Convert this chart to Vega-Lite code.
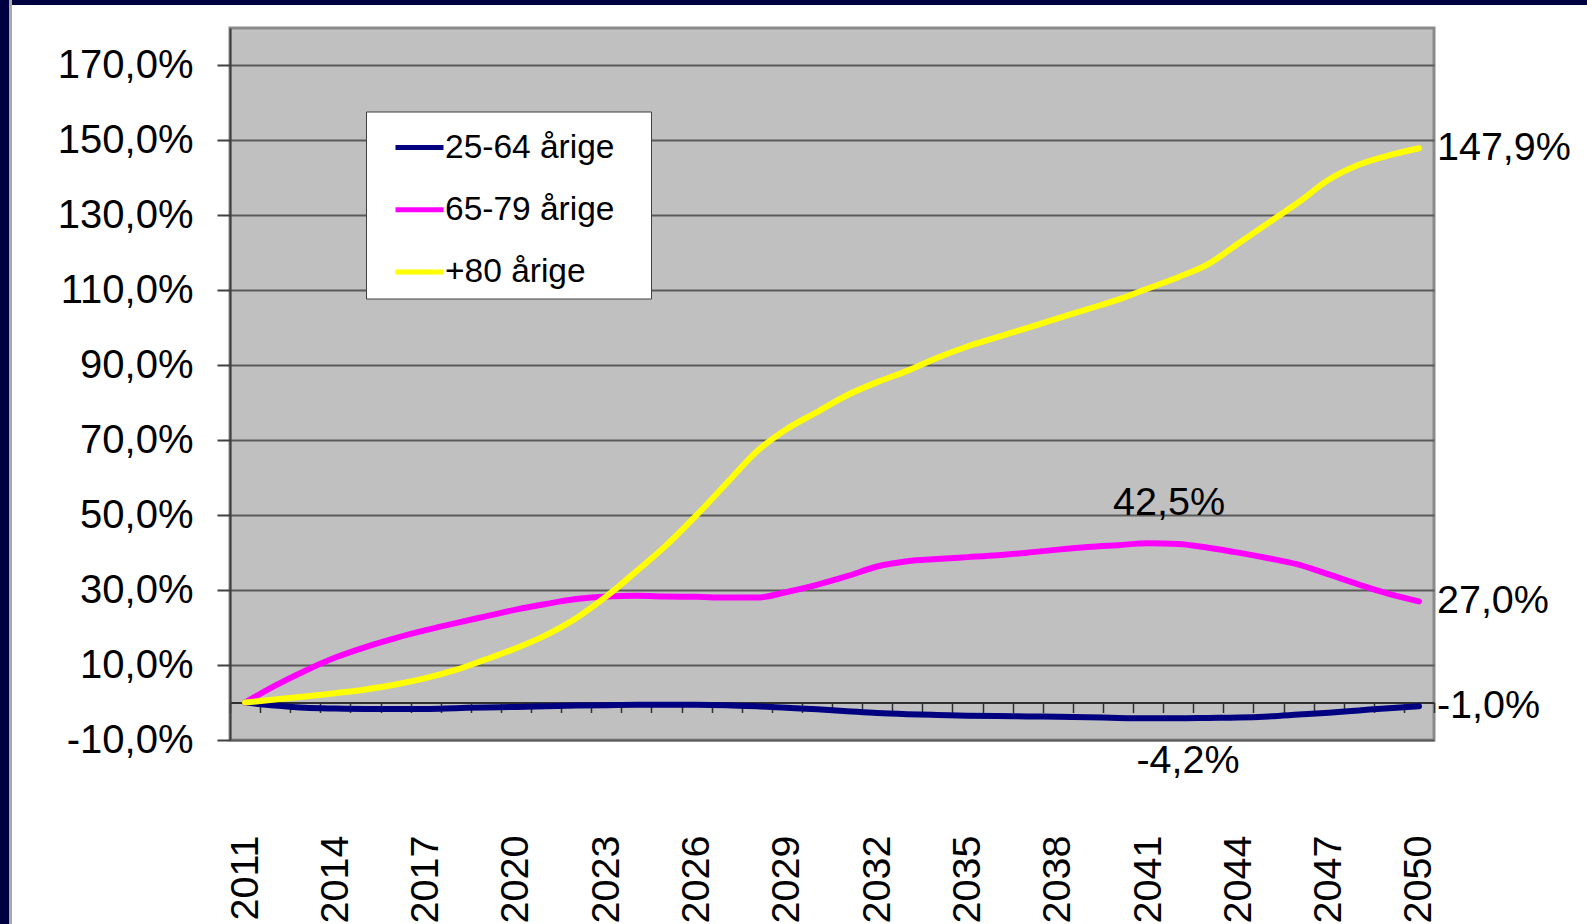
{
  "$schema": "https://vega.github.io/schema/vega-lite/v6.json",
  "padding": 0,
  "background": "#ffffff",
  "config": {
    "locale": {"number": {"decimal": ",", "thousands": ".", "grouping": [3], "currency": ["", " kr"], "minus": "-", "percent": "%"}},
    "font": "Liberation Sans",
    "view": {"fill": null, "stroke": null},
    "axis": {"labelFont": "Liberation Sans", "labelColor": "#000000", "titleFont": "Liberation Sans"},
    "legend": {"labelFont": "Liberation Sans"}
  },
  "bounds": "flush",
  "spacing": 0,
  "resolve": {"scale": {"color": "independent"}, "legend": {"color": "independent"}},
  "hconcat": [
    {
      "data": {"values": [{}]},
      "width": 9, "height": 924,
      "view": {"fill": "#000040", "stroke": null},
      "mark": {"type": "point", "size": 0, "opacity": 0, "filled": true, "strokeWidth": 0},
      "encoding": {}
    },
    {
      "data": {"values": [{}]},
      "width": 3, "height": 924,
      "view": {"fill": "#a9a9a9", "stroke": null},
      "mark": {"type": "point", "size": 0, "opacity": 0, "filled": true, "strokeWidth": 0},
      "encoding": {}
    },
    {
      "bounds": "flush",
      "spacing": 23,
      "resolve": {"scale": {"color": "independent"}, "legend": {"color": "independent"}},
      "vconcat": [
        {
          "data": {"values": [{}]},
          "width": 1575, "height": 5,
          "view": {"fill": "#000040", "stroke": null},
          "mark": {"type": "point", "size": 0, "opacity": 0, "filled": true, "strokeWidth": 0},
          "encoding": {}
        },
        {
          "bounds": "flush",
          "spacing": 217,
          "resolve": {"scale": {"color": "independent"}, "legend": {"color": "independent"}},
          "hconcat": [
            {
              "data": {"values": [{}]},
              "width": 1, "height": 1,
              "view": {"fill": null, "stroke": null},
              "mark": {"type": "point", "size": 0, "opacity": 0, "filled": true, "strokeWidth": 0},
              "encoding": {}
            },
            {
              "width": 1204,
              "height": 712,
              "view": {"fill": "#C0C0C0", "stroke": "#8a8a8a", "strokeWidth": 3},
              "data": {"values": [
                {"year": 2011, "series": "25-64 årige", "value": 0},
                {"year": 2012, "series": "25-64 årige", "value": -0.008},
                {"year": 2013, "series": "25-64 årige", "value": -0.014},
                {"year": 2014, "series": "25-64 årige", "value": -0.016},
                {"year": 2015, "series": "25-64 årige", "value": -0.017},
                {"year": 2016, "series": "25-64 årige", "value": -0.017},
                {"year": 2017, "series": "25-64 årige", "value": -0.017},
                {"year": 2018, "series": "25-64 årige", "value": -0.015},
                {"year": 2019, "series": "25-64 årige", "value": -0.013},
                {"year": 2020, "series": "25-64 årige", "value": -0.012},
                {"year": 2021, "series": "25-64 årige", "value": -0.010},
                {"year": 2022, "series": "25-64 årige", "value": -0.008},
                {"year": 2023, "series": "25-64 årige", "value": -0.007},
                {"year": 2024, "series": "25-64 årige", "value": -0.006},
                {"year": 2025, "series": "25-64 årige", "value": -0.006},
                {"year": 2026, "series": "25-64 årige", "value": -0.006},
                {"year": 2027, "series": "25-64 årige", "value": -0.007},
                {"year": 2028, "series": "25-64 årige", "value": -0.010},
                {"year": 2029, "series": "25-64 årige", "value": -0.014},
                {"year": 2030, "series": "25-64 årige", "value": -0.018},
                {"year": 2031, "series": "25-64 årige", "value": -0.023},
                {"year": 2032, "series": "25-64 årige", "value": -0.028},
                {"year": 2033, "series": "25-64 årige", "value": -0.031},
                {"year": 2034, "series": "25-64 årige", "value": -0.033},
                {"year": 2035, "series": "25-64 årige", "value": -0.035},
                {"year": 2036, "series": "25-64 årige", "value": -0.036},
                {"year": 2037, "series": "25-64 årige", "value": -0.037},
                {"year": 2038, "series": "25-64 årige", "value": -0.038},
                {"year": 2039, "series": "25-64 årige", "value": -0.039},
                {"year": 2040, "series": "25-64 årige", "value": -0.041},
                {"year": 2041, "series": "25-64 årige", "value": -0.042},
                {"year": 2042, "series": "25-64 årige", "value": -0.042},
                {"year": 2043, "series": "25-64 årige", "value": -0.041},
                {"year": 2044, "series": "25-64 årige", "value": -0.040},
                {"year": 2045, "series": "25-64 årige", "value": -0.037},
                {"year": 2046, "series": "25-64 årige", "value": -0.032},
                {"year": 2047, "series": "25-64 årige", "value": -0.027},
                {"year": 2048, "series": "25-64 årige", "value": -0.021},
                {"year": 2049, "series": "25-64 årige", "value": -0.015},
                {"year": 2050, "series": "25-64 årige", "value": -0.010},
                {"year": 2011, "series": "65-79 årige", "value": 0},
                {"year": 2012, "series": "65-79 årige", "value": 0.045},
                {"year": 2013, "series": "65-79 årige", "value": 0.085},
                {"year": 2014, "series": "65-79 årige", "value": 0.120},
                {"year": 2015, "series": "65-79 årige", "value": 0.148},
                {"year": 2016, "series": "65-79 årige", "value": 0.172},
                {"year": 2017, "series": "65-79 årige", "value": 0.193},
                {"year": 2018, "series": "65-79 årige", "value": 0.212},
                {"year": 2019, "series": "65-79 årige", "value": 0.230},
                {"year": 2020, "series": "65-79 årige", "value": 0.248},
                {"year": 2021, "series": "65-79 årige", "value": 0.263},
                {"year": 2022, "series": "65-79 årige", "value": 0.276},
                {"year": 2023, "series": "65-79 årige", "value": 0.283},
                {"year": 2024, "series": "65-79 årige", "value": 0.285},
                {"year": 2025, "series": "65-79 årige", "value": 0.283},
                {"year": 2026, "series": "65-79 årige", "value": 0.282},
                {"year": 2027, "series": "65-79 årige", "value": 0.280},
                {"year": 2028, "series": "65-79 årige", "value": 0.280},
                {"year": 2029, "series": "65-79 årige", "value": 0.295},
                {"year": 2030, "series": "65-79 årige", "value": 0.314},
                {"year": 2031, "series": "65-79 årige", "value": 0.337},
                {"year": 2032, "series": "65-79 årige", "value": 0.363},
                {"year": 2033, "series": "65-79 årige", "value": 0.377},
                {"year": 2034, "series": "65-79 årige", "value": 0.383},
                {"year": 2035, "series": "65-79 årige", "value": 0.388},
                {"year": 2036, "series": "65-79 årige", "value": 0.393},
                {"year": 2037, "series": "65-79 årige", "value": 0.400},
                {"year": 2038, "series": "65-79 årige", "value": 0.408},
                {"year": 2039, "series": "65-79 årige", "value": 0.415},
                {"year": 2040, "series": "65-79 årige", "value": 0.420},
                {"year": 2041, "series": "65-79 årige", "value": 0.425},
                {"year": 2042, "series": "65-79 årige", "value": 0.423},
                {"year": 2043, "series": "65-79 årige", "value": 0.413},
                {"year": 2044, "series": "65-79 årige", "value": 0.400},
                {"year": 2045, "series": "65-79 årige", "value": 0.385},
                {"year": 2046, "series": "65-79 årige", "value": 0.368},
                {"year": 2047, "series": "65-79 årige", "value": 0.342},
                {"year": 2048, "series": "65-79 årige", "value": 0.315},
                {"year": 2049, "series": "65-79 årige", "value": 0.290},
                {"year": 2050, "series": "65-79 årige", "value": 0.270},
                {"year": 2011, "series": "+80 årige", "value": 0},
                {"year": 2012, "series": "+80 årige", "value": 0.008},
                {"year": 2013, "series": "+80 årige", "value": 0.016},
                {"year": 2014, "series": "+80 årige", "value": 0.025},
                {"year": 2015, "series": "+80 årige", "value": 0.035},
                {"year": 2016, "series": "+80 årige", "value": 0.048},
                {"year": 2017, "series": "+80 årige", "value": 0.065},
                {"year": 2018, "series": "+80 årige", "value": 0.087},
                {"year": 2019, "series": "+80 årige", "value": 0.115},
                {"year": 2020, "series": "+80 årige", "value": 0.145},
                {"year": 2021, "series": "+80 årige", "value": 0.180},
                {"year": 2022, "series": "+80 årige", "value": 0.225},
                {"year": 2023, "series": "+80 årige", "value": 0.283},
                {"year": 2024, "series": "+80 årige", "value": 0.350},
                {"year": 2025, "series": "+80 årige", "value": 0.420},
                {"year": 2026, "series": "+80 årige", "value": 0.500},
                {"year": 2027, "series": "+80 årige", "value": 0.585},
                {"year": 2028, "series": "+80 årige", "value": 0.670},
                {"year": 2029, "series": "+80 årige", "value": 0.730},
                {"year": 2030, "series": "+80 årige", "value": 0.775},
                {"year": 2031, "series": "+80 årige", "value": 0.820},
                {"year": 2032, "series": "+80 årige", "value": 0.855},
                {"year": 2033, "series": "+80 årige", "value": 0.885},
                {"year": 2034, "series": "+80 årige", "value": 0.920},
                {"year": 2035, "series": "+80 årige", "value": 0.950},
                {"year": 2036, "series": "+80 årige", "value": 0.975},
                {"year": 2037, "series": "+80 årige", "value": 1.000},
                {"year": 2038, "series": "+80 årige", "value": 1.025},
                {"year": 2039, "series": "+80 årige", "value": 1.050},
                {"year": 2040, "series": "+80 årige", "value": 1.075},
                {"year": 2041, "series": "+80 årige", "value": 1.105},
                {"year": 2042, "series": "+80 årige", "value": 1.135},
                {"year": 2043, "series": "+80 årige", "value": 1.170},
                {"year": 2044, "series": "+80 årige", "value": 1.225},
                {"year": 2045, "series": "+80 årige", "value": 1.280},
                {"year": 2046, "series": "+80 årige", "value": 1.335},
                {"year": 2047, "series": "+80 årige", "value": 1.395},
                {"year": 2048, "series": "+80 årige", "value": 1.435},
                {"year": 2049, "series": "+80 årige", "value": 1.460},
                {"year": 2050, "series": "+80 årige", "value": 1.479}
              ]},
              "resolve": {"axis": {"x": "independent"}},
              "layer": [
                {
                  "mark": {"type": "line", "strokeWidth": 6, "interpolate": "monotone", "strokeCap": "round", "strokeJoin": "round"},
                  "encoding": {
                    "x": {"field": "year", "type": "quantitative",
                      "scale": {"domain": [2010.5, 2050.5], "nice": false, "zero": false},
                      "axis": {"orient": "bottom", "values": [2011, 2014, 2017, 2020, 2023, 2026, 2029, 2032, 2035, 2038, 2041, 2044, 2047, 2050],
                        "format": "d", "labelAngle": -90, "labelFontSize": 39.5, "labelPadding": 95, "ticks": false, "tickSize": 0,
                        "domain": false, "grid": false, "title": null, "labelOverlap": false, "labelFlush": false}},
                    "y": {"field": "value", "type": "quantitative",
                      "scale": {"domain": [-0.1, 1.8], "nice": false, "zero": false},
                      "axis": {"values": [-0.1, 0.1, 0.3, 0.5, 0.7, 0.9, 1.1, 1.3, 1.5, 1.7], "format": ".1%",
                        "labelFontSize": 40, "tickSize": 13, "tickColor": "#404040", "tickWidth": 2,
                        "domainColor": "#404040", "domainWidth": 2, "gridColor": "#5a5a5a", "gridWidth": 2,
                        "labelPadding": 24, "title": null, "labelOverlap": false, "labelFlush": false}},
                    "color": {"field": "series", "type": "nominal",
                      "scale": {"domain": ["25-64 årige", "65-79 årige", "+80 årige"], "range": ["#000080", "#FF00FF", "#FFFF00"]},
                      "legend": {"orient": "none", "legendX": 136, "legendY": 83.5, "title": ".",
                        "titleOrient": "right", "titleColor": "#ffffff", "titleFontSize": 4, "titlePadding": 25,
                        "fillColor": "#ffffff", "strokeColor": "#404040", "padding": 9.5,
                        "symbolType": "stroke", "symbolSize": 2304, "symbolStrokeWidth": 5, "symbolOffset": 17.5,
                        "labelFontSize": 33.5, "labelColor": "#000000", "labelOffset": -1, "rowPadding": 19.3, "labelLimit": 400}}
                  }
                },
                {
                  "transform": [{"filter": "datum.year == 2050"}],
                  "mark": {"type": "text", "align": "left", "baseline": "middle", "dx": 18, "fontSize": 39.5, "color": "#000000"},
                  "encoding": {
                    "x": {"field": "year", "type": "quantitative",
                      "axis": {"orient": "bottom", "offset": -37.5,
                        "values": [2010.5, 2011.5, 2012.5, 2013.5, 2014.5, 2015.5, 2016.5, 2017.5, 2018.5, 2019.5, 2020.5, 2021.5, 2022.5, 2023.5, 2024.5, 2025.5, 2026.5, 2027.5, 2028.5, 2029.5, 2030.5, 2031.5, 2032.5, 2033.5, 2034.5, 2035.5, 2036.5, 2037.5, 2038.5, 2039.5, 2040.5, 2041.5, 2042.5, 2043.5, 2044.5, 2045.5, 2046.5, 2047.5, 2048.5, 2049.5, 2050.5],
                        "labels": false, "grid": false, "domain": true, "domainColor": "#303030", "domainWidth": 2,
                        "ticks": true, "tickSize": 10, "tickColor": "#303030", "tickWidth": 1.5, "title": null}},
                    "y": {"field": "value", "type": "quantitative"},
                    "text": {"field": "value", "type": "quantitative", "format": ".1%"}
                  }
                },
                {
                  "transform": [{"filter": "datum.year == 2041 && datum.series == '65-79 årige'"}],
                  "mark": {"type": "text", "align": "center", "baseline": "middle", "dx": 21, "dy": -40, "fontSize": 39.5, "color": "#000000"},
                  "encoding": {
                    "x": {"field": "year", "type": "quantitative", "axis": null},
                    "y": {"field": "value", "type": "quantitative"},
                    "text": {"field": "value", "type": "quantitative", "format": ".1%"}
                  }
                },
                {
                  "transform": [{"filter": "datum.year == 2041 && datum.series == '25-64 årige'"}],
                  "mark": {"type": "text", "align": "center", "baseline": "middle", "dx": 40, "dy": 43, "fontSize": 39.5, "color": "#000000"},
                  "encoding": {
                    "x": {"field": "year", "type": "quantitative", "axis": null},
                    "y": {"field": "value", "type": "quantitative"},
                    "text": {"field": "value", "type": "quantitative", "format": ".1%"}
                  }
                }
              ]
            }
          ]
        }
      ]
    }
  ]
}
